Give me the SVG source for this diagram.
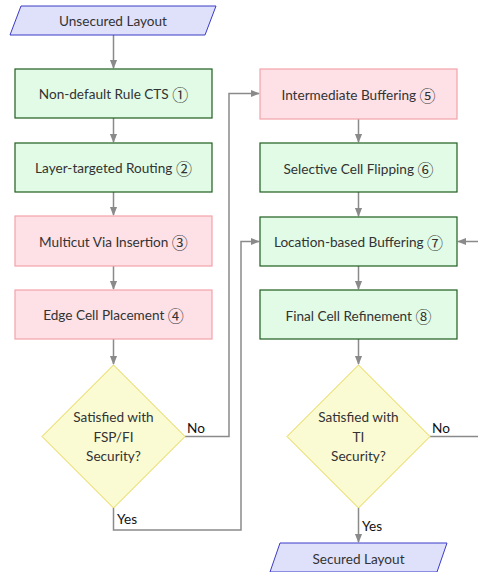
<svg xmlns="http://www.w3.org/2000/svg" width="478" height="572" viewBox="0 0 478 572">
  <style>
    .lbl { font-family: Lato, "Noto Sans", "DejaVu Sans", sans-serif; font-size: 13.6px; fill: #333; text-anchor: middle; dominant-baseline: central; }
    .num { font-family: "Noto Sans CJK JP", "DejaVu Sans", sans-serif; font-size: 16px; }
    .edge-lbl { font-family: Lato, "Noto Sans", "DejaVu Sans", sans-serif; font-size: 13.6px; fill: #111; }
    .io { fill: #dfe1fb; stroke: #3a3ac8; stroke-width: 1; }
    .green { fill: #e1fbe6; stroke: #1f5e1f; stroke-width: 1.2; }
    .pink { fill: #fde1e7; stroke: #f4a2aa; stroke-width: 1.2; }
    .dec { fill: #fafad3; stroke: #e6d64a; stroke-width: 1; }
    .conn { fill: none; stroke: #8a8a8a; stroke-width: 1.5; }
  </style>
  <defs>
    <marker id="arrow" viewBox="0 0 10 10" refX="9" refY="5" markerWidth="6" markerHeight="6" orient="auto-start-reverse">
      <path d="M0,1 L10,5 L0,9 z" fill="#8a8a8a"/>
    </marker>
  </defs>

  <!-- connectors -->
  <g id="connectors">
    <path class="conn" d="M113.5,35 V68" marker-end="url(#arrow)"/>
    <path class="conn" d="M113.5,118 V142" marker-end="url(#arrow)"/>
    <path class="conn" d="M113.5,192 V215" marker-end="url(#arrow)"/>
    <path class="conn" d="M113.5,266 V289" marker-end="url(#arrow)"/>
    <path class="conn" d="M113.5,339 V364" marker-end="url(#arrow)"/>
    <!-- No branch: back to intermediate buffering -->
    <path class="conn" d="M185,436.5 H229 V93.5 H259" marker-end="url(#arrow)"/>
    <!-- Yes branch: to location-based buffering -->
    <path class="conn" d="M113.5,508 V530 H241 V241.5 H259" marker-end="url(#arrow)"/>
    <path class="conn" d="M358.5,119 V142" marker-end="url(#arrow)"/>
    <path class="conn" d="M358.5,192 V216" marker-end="url(#arrow)"/>
    <path class="conn" d="M358.5,266 V289" marker-end="url(#arrow)"/>
    <path class="conn" d="M358.5,339 V364" marker-end="url(#arrow)"/>
    <!-- TI No branch loops back -->
    <path class="conn" d="M430,436.5 H479 V241.5 H458" marker-end="url(#arrow)"/>
    <path class="conn" d="M358.5,508 V542" marker-end="url(#arrow)"/>
    <text class="edge-lbl" x="187" y="433">No</text>
    <text class="edge-lbl" x="117" y="524">Yes</text>
    <text class="edge-lbl" x="432" y="433">No</text>
    <text class="edge-lbl" x="362" y="531">Yes</text>
  </g>

  <g id="unsecured">
    <polygon class="io" points="21,6 216,6 205,35 10,35"/>
    <text class="lbl" x="113" y="20.5">Unsecured Layout</text>
  </g>
  <g id="step1">
    <rect class="green" x="15" y="69" width="197" height="49"/>
    <text class="lbl" x="113.5" y="94">Non-default Rule CTS <tspan class="num">①</tspan></text>
  </g>
  <g id="step2">
    <rect class="green" x="15" y="143" width="197" height="49"/>
    <text class="lbl" x="113.5" y="168">Layer-targeted Routing <tspan class="num">②</tspan></text>
  </g>
  <g id="step3">
    <rect class="pink" x="15" y="216" width="197" height="50"/>
    <text class="lbl" x="113.5" y="242">Multicut Via Insertion <tspan class="num">③</tspan></text>
  </g>
  <g id="step4">
    <rect class="pink" x="15" y="290" width="197" height="49"/>
    <text class="lbl" x="113.5" y="315">Edge Cell Placement <tspan class="num">④</tspan></text>
  </g>
  <g id="check-fsp">
    <polygon class="dec" points="113.5,365 185,436.5 113.5,508 42,436.5"/>
    <text class="lbl" x="113.5" y="417">Satisfied with</text>
    <text class="lbl" x="113.5" y="437">FSP/FI</text>
    <text class="lbl" x="113.5" y="456">Security?</text>
  </g>

  <g id="step5">
    <rect class="pink" x="260" y="69" width="197" height="50"/>
    <text class="lbl" x="358.5" y="95">Intermediate Buffering <tspan class="num">⑤</tspan></text>
  </g>
  <g id="step6">
    <rect class="green" x="260" y="143" width="197" height="49"/>
    <text class="lbl" x="358.5" y="169">Selective Cell Flipping <tspan class="num">⑥</tspan></text>
  </g>
  <g id="step7">
    <rect class="green" x="260" y="217" width="197" height="49"/>
    <text class="lbl" x="358.5" y="242">Location-based Buffering <tspan class="num">⑦</tspan></text>
  </g>
  <g id="step8">
    <rect class="green" x="260" y="290" width="197" height="49"/>
    <text class="lbl" x="358.5" y="316">Final Cell Refinement <tspan class="num">⑧</tspan></text>
  </g>
  <g id="check-ti">
    <polygon class="dec" points="358.5,365 430,436.5 358.5,508 287,436.5"/>
    <text class="lbl" x="358.5" y="417">Satisfied with</text>
    <text class="lbl" x="358.5" y="437">TI</text>
    <text class="lbl" x="358.5" y="456">Security?</text>
  </g>
  <g id="secured">
    <polygon class="io" points="280,543 447,543 437,572 270,572"/>
    <text class="lbl" x="358.5" y="559">Secured Layout</text>
  </g>
</svg>
